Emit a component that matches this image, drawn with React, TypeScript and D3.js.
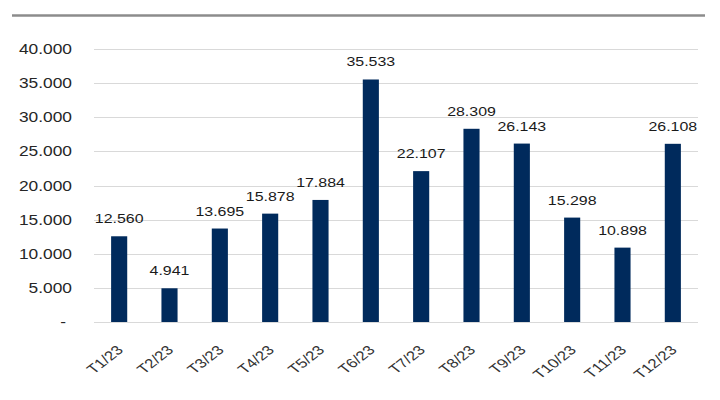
import React from "react";
import * as d3 from "d3";

const categories = ["T1/23","T2/23","T3/23","T4/23","T5/23","T6/23","T7/23","T8/23","T9/23","T10/23","T11/23","T12/23"];
const values = [12560, 4941, 13695, 15878, 17884, 35533, 22107, 28309, 26143, 15298, 10898, 26108];
const yTicks = [0, 5000, 10000, 15000, 20000, 25000, 30000, 35000, 40000];

const W = 720, H = 400;
const left = 94, right = 698, top = 49, bottom = 322;
const FONT = "'Liberation Sans', Arial, sans-serif";

const loc = d3.formatLocale({ decimal: ",", thousands: ".", grouping: [3], currency: ["", ""] });
const fmt = loc.format(",d");

export default function App() {
  const x = d3.scaleBand<string>().domain(categories).range([left, right]).paddingInner(0.68).paddingOuter(0.34);
  const y = d3.scaleLinear().domain([0, 40000]).range([bottom, top]);
  return (
    <svg width={W} height={H} style={{ position: "absolute", left: 0, top: 0, background: "#fff" }}>
      <line x1={12} x2={705} y1={15.5} y2={15.5} stroke="#8c8c8c" strokeWidth={2.5} />
      {yTicks.map((t) => (
        <g key={t}>
          <line x1={left} x2={right} y1={Math.round(y(t)) + 0.5} y2={Math.round(y(t)) + 0.5} stroke="#d9d9d9" strokeWidth={1.2} />
          <text
            transform={`translate(${t === 0 ? 66 : 72},${y(t)}) scale(1.24,1)`}
            textAnchor="end"
            dy="0.36em"
            fontFamily={FONT}
            fontSize={14}
            fill="#262626"
          >
            {t === 0 ? "-" : fmt(t)}
          </text>
        </g>
      ))}
      {values.map((v, i) => {
        const c = categories[i];
        const cx = (x(c) as number) + x.bandwidth() / 2;
        return (
          <g key={c}>
            <rect x={x(c)} y={y(v)} width={x.bandwidth()} height={bottom - y(v)} fill="#002A5C" />
            <text
              transform={`translate(${cx},${y(v) - 13}) scale(1.18,1)`}
              textAnchor="middle"
              fontFamily={FONT}
              fontSize={13.5}
              fill="#1a1a1a"
            >
              {fmt(v)}
            </text>
            <text
              transform={`translate(${cx + 5},${bottom + 29}) scale(1.3,1) rotate(-45)`}
              textAnchor="end"
              fontFamily={FONT}
              fontSize={13}
              fill="#333"
            >
              {c}
            </text>
          </g>
        );
      })}
    </svg>
  );
}
